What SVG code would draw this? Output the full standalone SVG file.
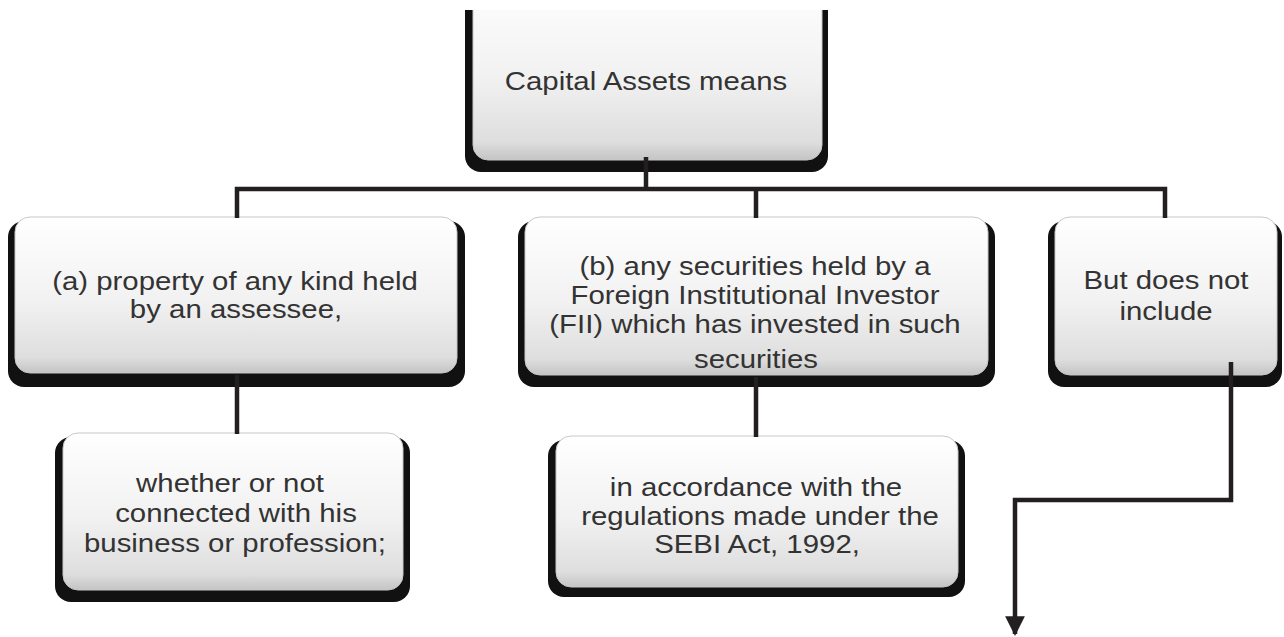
<svg xmlns="http://www.w3.org/2000/svg" width="1284" height="637" viewBox="0 0 1284 637">
  <style>
    .shadow { fill: #111111; }
    .body { fill: url(#g); stroke: #c8c8c8; stroke-width: 1; }
    .t { font-family: "Liberation Sans", Arial, sans-serif; font-size: 26px; fill: #333333; text-anchor: middle; }
    .conn { fill: none; stroke: #231f20; stroke-width: 4.5; stroke-linejoin: miter; }
  </style>
  <defs>
    <linearGradient id="g" x1="0" y1="0" x2="0" y2="1">
      <stop offset="0" stop-color="#ffffff"/>
      <stop offset="0.55" stop-color="#f1f1f1"/>
      <stop offset="0.9" stop-color="#dedede"/>
      <stop offset="1" stop-color="#c4c4c4"/>
    </linearGradient>
    <clipPath id="topclip">
      <rect x="0" y="10" width="1284" height="627"/>
    </clipPath>
    <marker id="arrow" viewBox="0 0 10 10" refX="9" refY="5" markerWidth="4.4" markerHeight="4.4" markerUnits="strokeWidth" orient="auto">
      <path d="M0,0 L10,5 L0,10 Z" fill="#231f20"/>
    </marker>
  </defs>
  <rect width="1284" height="637" fill="#ffffff"/>

  <g id="node-capital-assets" clip-path="url(#topclip)">
    <rect class="shadow" x="465" y="-16" width="363" height="188" rx="16"/>
    <rect class="body" x="473" y="-20" width="349" height="180" rx="15"/>
    <text class="t" transform="translate(646,90) scale(1.13,1)">Capital Assets means</text>
  </g>

  <g id="node-a">
    <rect class="shadow" x="8" y="221" width="457" height="166" rx="16"/>
    <rect class="body" x="15" y="217" width="442" height="156" rx="15"/>
    <text class="t" transform="translate(235,290) scale(1.13,1)">(a) property of any kind held</text>
    <text class="t" transform="translate(236,318) scale(1.13,1)">by an assessee,</text>
  </g>

  <g id="node-b">
    <rect class="shadow" x="518" y="221" width="477" height="166" rx="16"/>
    <rect class="body" x="525" y="217" width="463" height="158" rx="15"/>
    <text class="t" transform="translate(755,275) scale(1.13,1)">(b) any securities held by a</text>
    <text class="t" transform="translate(755,304) scale(1.13,1)">Foreign Institutional Investor</text>
    <text class="t" transform="translate(755,333) scale(1.13,1)">(FII) which has invested in such</text>
    <text class="t" transform="translate(756,368) scale(1.13,1)">securities</text>
  </g>

  <g id="node-c">
    <rect class="shadow" x="1048" y="221" width="234" height="166" rx="16"/>
    <rect class="body" x="1055" y="217" width="222" height="158" rx="15"/>
    <text class="t" transform="translate(1166,289) scale(1.13,1)">But does not</text>
    <text class="t" transform="translate(1166,320) scale(1.13,1)">include</text>
  </g>

  <g id="node-a-child">
    <rect class="shadow" x="55" y="437" width="355" height="165" rx="16"/>
    <rect class="body" x="63" y="433" width="340" height="157" rx="15"/>
    <text class="t" transform="translate(230,492) scale(1.13,1)">whether or not</text>
    <text class="t" transform="translate(236,522) scale(1.13,1)">connected with his</text>
    <text class="t" transform="translate(235,552) scale(1.13,1)">business or profession;</text>
  </g>

  <g id="node-b-child">
    <rect class="shadow" x="548" y="440" width="417" height="157" rx="16"/>
    <rect class="body" x="556" y="436" width="402" height="151" rx="15"/>
    <text class="t" transform="translate(756,496) scale(1.13,1)">in accordance with the</text>
    <text class="t" transform="translate(760,525) scale(1.13,1)">regulations made under the</text>
    <text class="t" transform="translate(757,553) scale(1.13,1)">SEBI Act, 1992,</text>
  </g>

  <g id="connectors">
    <path class="conn" d="M646,157 V189"/>
    <path class="conn" d="M237,218 V189 H1165 V218"/>
    <path class="conn" d="M756,189 V218"/>
    <path class="conn" d="M237,375 V434"/>
    <path class="conn" d="M756,377 V437"/>
    <path class="conn" d="M1231,362 V500 H1015 V634" marker-end="url(#arrow)"/>
  </g>
</svg>
